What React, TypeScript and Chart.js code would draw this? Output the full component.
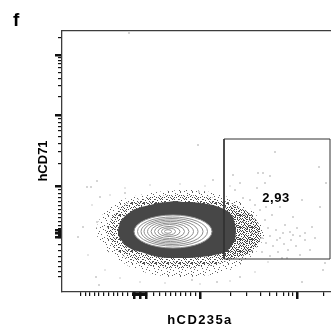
import React, { useEffect, useRef } from "react";
import { Chart, registerables } from "chart.js";
Chart.register(...registerables);

// Display-channel ranges of the two axes
const X_MIN = 0, X_MAX = 269;
const Y_MIN = 0, Y_MAX = 261;

// Axis text
const panelLetter = "f";
const xTitle = "hCD235a";
const yTitle = "hCD71";
const gateLabel = "2,93";
const gateLabelX = [214];
const gateLabelY = [94];

// Tick positions (display channel units)
const xMinorTicks = [19, 24, 28, 33, 37, 42, 47, 52, 56, 61, 66, 71, 72, 73, 74, 75, 76, 77, 78, 79, 80, 81, 82, 83, 84, 85, 92, 98, 104, 109, 114, 119, 124, 129, 134, 169, 185, 199, 208, 215, 222, 227, 231, 262];
const xMajorTicks = [72, 78, 84, 138, 235];
const yMinorTicks = [254, 234, 231, 228, 224, 219, 213, 206, 195, 173, 169, 165, 161, 155, 148, 140, 128, 102, 98, 94, 90, 86, 82, 78, 74, 70, 66, 63, 62, 61, 60, 59, 58, 57, 56, 55, 54, 47, 41, 35, 30, 25, 20, 15];
const yMajorTicks = [237, 177, 106, 62, 58.5, 55];

// Outer light event halo
const haloOuterX = [33, 38, 46, 58, 73, 88, 103, 118, 133, 148, 163, 178, 190, 200, 203, 196, 183, 168, 148, 128, 108, 88, 70, 53, 40, 33];
const haloOuterY = [60, 74, 84, 92, 96, 99, 101, 102, 102, 100, 96, 90, 82, 70, 57, 42, 30, 22, 17, 15, 15, 18, 24, 34, 46, 60];
// Inner, denser halo
const haloInnerX = [44, 49, 57, 70, 88, 108, 128, 148, 166, 180, 188, 190, 184, 173, 153, 128, 103, 83, 66, 52, 44];
const haloInnerY = [60, 74, 84, 91, 95, 97, 97, 95, 90, 83, 71, 57, 44, 34, 27, 24, 24, 27, 33, 44, 60];
// Dense events entering the gate
const gateCloudX = [160, 173, 186, 196, 200, 194, 182, 166, 160, 160];
const gateCloudY = [84, 86, 80, 70, 57, 44, 36, 33, 34, 84];
// Saturated dark population
const blobX = [56, 58, 63, 71, 79, 88, 96, 105, 113, 121, 130, 138, 145, 151, 157, 162, 167, 171, 173, 174, 173, 169, 164, 157, 148, 138, 128, 118, 105, 96, 88, 79, 71, 64, 59, 56, 56];
const blobY = [62, 70, 76, 82, 85, 87, 89, 90, 91, 90, 90, 89, 88, 87, 85, 83, 80, 75, 68, 60, 52, 45, 40, 38, 36, 35, 34, 34, 34, 35, 37, 40, 42, 46, 52, 57, 62];

// Contour rings (centre and half-widths, display units)
const ringCX = [111, 110.5, 110, 109, 108.5, 108, 107.5, 107, 106.5, 106];
const ringCY = [60.5, 60.5, 60.5, 60.5, 60.5, 60.5, 60.5, 60.5, 60.5, 60.5];
const ringRX = [39, 35, 31, 27, 23, 19, 15, 11, 7, 3.5];
const ringRY = [16.5, 14.5, 13, 11.5, 10, 8.5, 7, 5, 3.5, 1.8];

// Individual events
const darkDotsX = [183, 188, 193, 196, 200, 204, 208, 211, 206, 214, 218, 222, 226, 229, 234, 238, 216, 200, 193, 188, 184, 178, 190, 185, 181, 203, 210, 223, 228, 235, 243, 248, 253, 220, 208, 238, 198, 193, 204, 188, 181, 195, 203, 208, 218, 173, 178,
  67, 136, 213, 257, 264, 201, 196, 171, 35, 25, 29, 38, 63, 151, 137, 258, 240, 231, 250, 243, 16, 21, 35, 34, 37, 263, 261, 240, 178, 130, 155, 225, 215, 221, 231];
const darkDotsY = [77, 72, 66, 60, 54, 49, 56, 46, 64, 62, 54, 48, 42, 52, 46, 56, 40, 40, 47, 52, 42, 47, 59, 64, 70, 72, 77, 67, 60, 64, 52, 42, 54, 34, 36, 37, 82, 87, 85, 92, 94, 104, 109, 116, 85, 102, 109,
  259, 147, 140, 125, 109, 119, 119, 117, 111, 105, 105, 95, 99, 112, 100, 85, 92, 75, 65, 59, 55, 65, 70, 15, 7, 29, 22, 10, 15, 12, 10, 34, 52, 59, 57];
const lightDotsX = [48, 63, 88, 118, 143, 168, 43, 58, 78, 103, 138, 168, 193, 206, 30, 26];
const lightDotsY = [97, 104, 107, 108, 106, 106, 22, 14, 10, 9, 8, 11, 20, 30, 87, 37];

// Gate rectangle
const gateX = [162, 268, 268, 162, 162];
const gateY = [33, 33, 153, 153, 33];

const zip = (xs: number[], ys: number[]) => xs.map((x, i) => ({ x, y: ys[i] }));

function stipple(dots: number[][], color: string, size: number) {
  const c = document.createElement("canvas");
  c.width = size; c.height = size;
  const g = c.getContext("2d")!;
  g.fillStyle = color;
  dots.forEach(([a, b]) => g.fillRect(a, b, 1, 1));
  return g.createPattern(c, "repeat")!;
}

// stipple tiles (12 x 12 px)
const lightTile = [[0, 0], [7, 1], [3, 3], [10, 4], [5, 6], [1, 8], [8, 9], [4, 11], [11, 10], [2, 5], [9, 2], [6, 10], [0, 11], [11, 7]];
const mediumTile = [[0, 0], [5, 0], [9, 1], [2, 2], [7, 3], [11, 3], [4, 4], [0, 5], [8, 5], [3, 6], [6, 7], [10, 7], [1, 8], [5, 9], [9, 9], [2, 10], [7, 11], [11, 11], [4, 1], [10, 4], [1, 3], [6, 5], [0, 10], [8, 10], [3, 11], [6, 1], [10, 11], [4, 7]];
const denseTile = [...mediumTile, [2, 0], [7, 0], [11, 1], [0, 2], [5, 2], [9, 3], [3, 4], [6, 3], [11, 6], [1, 6], [8, 7], [4, 8], [10, 9], [6, 10], [1, 11], [9, 11], [3, 9], [7, 8]];

const contourPlugin = {
  id: "contours",
  afterDatasetsDraw(chart: any) {
    const { ctx, chartArea, scales } = chart;
    const x = scales.x, y = scales.y;
    ctx.save();
    ctx.beginPath();
    ctx.rect(chartArea.left, chartArea.top, chartArea.right - chartArea.left, chartArea.bottom - chartArea.top);
    ctx.clip();
    ringCX.forEach((cx, i) => {
      const px = x.getPixelForValue(cx);
      const py = y.getPixelForValue(ringCY[i]);
      const rx = Math.abs(x.getPixelForValue(cx + ringRX[i]) - px);
      const ry = Math.abs(y.getPixelForValue(ringCY[i] + ringRY[i]) - py);
      ctx.beginPath();
      ctx.ellipse(px, py, rx, ry, 0, 0, Math.PI * 2);
      if (i === 0) { ctx.fillStyle = "#ffffff"; ctx.fill(); }
      ctx.strokeStyle = "#8e8e8e";
      ctx.lineWidth = 1;
      ctx.stroke();
    });
    ctx.restore();
  },
};

const textPlugin = {
  id: "texts",
  afterDraw(chart: any) {
    const { ctx, scales } = chart;
    ctx.save();
    ctx.fillStyle = "#000";
    ctx.font = 'bold 19px "Liberation Sans", Arial, sans-serif';
    ctx.textAlign = "left";
    ctx.textBaseline = "alphabetic";
    ctx.fillText(panelLetter, 13, 26);

    ctx.font = 'bold 13px "Liberation Sans", Arial, sans-serif';
    ctx.textAlign = "center";
    ctx.textBaseline = "middle";
    ctx.save();
    ctx.translate(43, 161);
    ctx.rotate(-Math.PI / 2);
    ctx.fillText(yTitle, 0, 0);
    ctx.restore();

    (ctx as any).letterSpacing = "1.4px";
    ctx.fillText(xTitle, 200, 320);

    (ctx as any).letterSpacing = "0.5px";
    ctx.fillText(gateLabel, scales.x.getPixelForValue(gateLabelX[0]), scales.y.getPixelForValue(gateLabelY[0]));
    (ctx as any).letterSpacing = "0px";
    ctx.restore();
  },
};

function tickAxis(position: string, ticks: number[], len: number, width: number, size: number, weight: number, border: boolean, horizontal: boolean) {
  return {
    type: "linear",
    position,
    weight,
    min: horizontal ? X_MIN : Y_MIN,
    max: horizontal ? X_MAX : Y_MAX,
    afterBuildTicks: (s: any) => { s.ticks = ticks.map((v) => ({ value: v })); },
    afterFit: (s: any) => {
      if (horizontal) s.height = size; else s.width = size;
      s.paddingLeft = 0; s.paddingRight = 0; s.paddingTop = 0; s.paddingBottom = 0;
    },
    ticks: { display: false, autoSkip: false },
    grid: { display: true, drawOnChartArea: false, drawTicks: len > 0, tickLength: len, lineWidth: width, color: len > 0 ? "#111" : "rgba(0,0,0,0)" },
    border: { display: border, color: "#3c3c3c", width: 1.3 },
  };
}

export default function App() {
  const ref = useRef<HTMLCanvasElement>(null);
  useEffect(() => {
    const ctx = ref.current!.getContext("2d")!;
    const patLight = stipple(lightTile, "#606060", 12);
    const patMedium = stipple(mediumTile, "#454545", 12);
    const patDense = stipple(denseTile, "#3e3e3e", 12);
    const poly = (xs: number[], ys: number[], fill: any, order: number) => ({
      data: zip(xs, ys), showLine: true, fill: "shape", backgroundColor: fill, borderWidth: 0, borderColor: "rgba(0,0,0,0)", pointRadius: 0, order, tension: 0,
    });
    const chart = new Chart(ctx, {
      type: "scatter",
      data: {
        datasets: [
          poly(haloOuterX, haloOuterY, patLight, 7),
          poly(haloInnerX, haloInnerY, patMedium, 6),
          poly(gateCloudX, gateCloudY, patDense, 5),
          poly(blobX, blobY, "#474747", 4),
          { data: zip(lightDotsX, lightDotsY), pointStyle: "rect", pointRadius: 0.6, backgroundColor: "#8a8a8a", borderWidth: 0, order: 3 },
          { data: zip(darkDotsX, darkDotsY), pointStyle: "rect", pointRadius: 0.6, backgroundColor: "#3a3a3a", borderWidth: 0, order: 2 },
          { data: zip(gateX, gateY), showLine: true, fill: false, borderColor: "#333", borderWidth: 1, pointRadius: 0, order: 1 },
        ] as any,
      },
      options: {
        animation: false,
        responsive: true,
        maintainAspectRatio: false,
        devicePixelRatio: 1,
        layout: { padding: 0, autoPadding: false },
        plugins: { legend: { display: false }, tooltip: { enabled: false }, title: { display: false } },
        events: [],
        scales: {
          x: tickAxis("bottom", xMinorTicks, 4, 1.2, 37, 0, true, true),
          xMaj: tickAxis("bottom", xMajorTicks, 7, 2.5, 0, -1, false, true),
          xTop: tickAxis("top", [], 0, 1, 31, 0, true, true),
          y: tickAxis("left", yMinorTicks, 4, 1.2, 62, 0, true, false),
          yMaj: tickAxis("left", yMajorTicks, 7, 2.5, 0, -1, false, false),
        } as any,
      },
      plugins: [contourPlugin, textPlugin],
    });
    return () => chart.destroy();
  }, []);
  return (
    <div style={{ position: "fixed", left: 0, top: 0, width: 331, height: 329, background: "#fff" }}>
      <canvas ref={ref} />
    </div>
  );
}
